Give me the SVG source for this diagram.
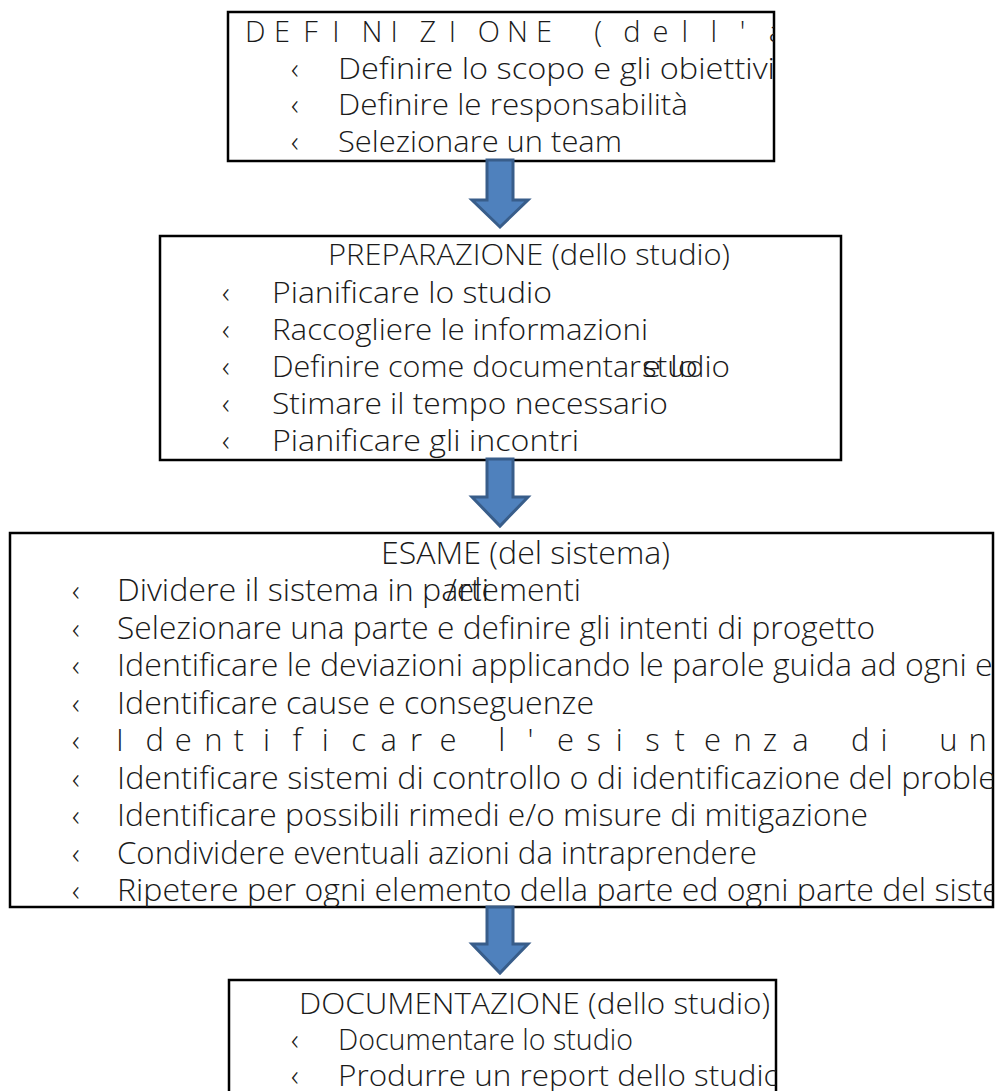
<svg xmlns="http://www.w3.org/2000/svg" width="995" height="1091" viewBox="0 0 995 1091">
<style>
.box{fill:#fff;stroke:#000;stroke-width:2.5}
.t{font-family:"Open Sans","Liberation Sans",sans-serif;font-size:29px;font-weight:300;fill:#1a1a1a}
.n{font-family:"Open Sans","Liberation Sans",sans-serif;font-size:31px;font-weight:300;fill:#1a1a1a}
.b{font-family:"Open Sans","Liberation Sans",sans-serif;font-size:30px;font-weight:300;fill:#1a1a1a}
.arrow{fill:#4f81bd;stroke:#385d8a;stroke-width:3;stroke-linejoin:miter}
</style>
<defs>
<clipPath id="c1"><rect x="228" y="12" width="546" height="149"/></clipPath>
<clipPath id="c2"><rect x="160" y="236" width="681" height="224"/></clipPath>
<clipPath id="c3"><rect x="10" y="533" width="983" height="374"/></clipPath>
<clipPath id="c4"><rect x="229" y="980" width="547" height="140"/></clipPath>
</defs>

<g id="definizione">
<rect class="box" x="228" y="12" width="546" height="149"/>
<g clip-path="url(#c1)">
<text class="t" x="245 274.1 303.2 332.3 361.4 390.5 419.6 448.7 477.8 506.9 536 565.1 594.2 623.3 652.4 681.5 710.6 739.7 768.8" y="42">DEFINIZIONE (dell'a</text>
<text class="b" x="291" y="79">‹</text>
<text class="t" x="338" y="79" textLength="437" lengthAdjust="spacingAndGlyphs">Definire lo scopo e gli obiettivi</text>
<text class="b" x="291" y="115">‹</text>
<text class="t" x="338" y="115" textLength="350" lengthAdjust="spacingAndGlyphs">Definire le responsabilità</text>
<text class="b" x="291" y="152">‹</text>
<text class="t" x="338" y="152" textLength="284" lengthAdjust="spacingAndGlyphs">Selezionare un team</text>
</g>
</g>

<g id="preparazione">
<rect class="box" x="160" y="236" width="681" height="224"/>
<g clip-path="url(#c2)">
<text class="t" x="328" y="265" textLength="402" lengthAdjust="spacingAndGlyphs">PREPARAZIONE (dello studio)</text>
<text class="b" x="222" y="303">‹</text>
<text class="t" x="272" y="303" textLength="280" lengthAdjust="spacingAndGlyphs">Pianificare lo studio</text>
<text class="b" x="222" y="340">‹</text>
<text class="t" x="272" y="340" textLength="376" lengthAdjust="spacingAndGlyphs">Raccogliere le informazioni</text>
<text class="b" x="222" y="377">‹</text>
<text class="t" x="272" y="377" textLength="369" lengthAdjust="spacingAndGlyphs">Definire come documentar</text>
<text class="t" x="642" y="377" textLength="88" lengthAdjust="spacingAndGlyphs">studio</text>
<text class="t" x="642" y="377" textLength="56" lengthAdjust="spacingAndGlyphs">e lo</text>
<text class="b" x="222" y="414">‹</text>
<text class="t" x="272" y="414" textLength="396" lengthAdjust="spacingAndGlyphs">Stimare il tempo necessario</text>
<text class="b" x="222" y="451">‹</text>
<text class="t" x="272" y="451" textLength="307" lengthAdjust="spacingAndGlyphs">Pianificare gli incontri</text>
</g>
</g>

<g id="esame">
<rect class="box" x="10" y="533" width="983" height="374"/>
<g clip-path="url(#c3)">
<text class="n" x="381" y="564" textLength="289" lengthAdjust="spacingAndGlyphs">ESAME (del sistema)</text>
<text class="b" x="72" y="601">‹</text>
<text class="n" x="117" y="601" textLength="372" lengthAdjust="spacingAndGlyphs">Dividere il sistema in parti</text>
<text class="n" x="446" y="601" textLength="135" lengthAdjust="spacingAndGlyphs">/elementi</text>
<text class="b" x="72" y="639">‹</text>
<text class="n" x="117" y="639" textLength="758" lengthAdjust="spacingAndGlyphs">Selezionare una parte e definire gli intenti di progetto</text>
<text class="b" x="72" y="676">‹</text>
<text class="n" x="117" y="676" textLength="883" lengthAdjust="spacingAndGlyphs">Identificare le deviazioni applicando le parole guida ad ogni el</text>
<text class="b" x="72" y="714">‹</text>
<text class="n" x="117" y="714" textLength="477" lengthAdjust="spacingAndGlyphs">Identificare cause e conseguenze</text>
<text class="b" x="72" y="751">‹</text>
<text class="n" x="116 145.4 174.8 204.2 233.6 263 292.4 321.8 351.2 380.6 410 439.4 468.8 498.2 527.6 557 586.4 615.8 645.2 674.6 704 733.4 762.8 792.2 821.6 851 880.4 909.8 939.2 968.6" y="751">Identificare l'esistenza di un</text>
<text class="b" x="72" y="789">‹</text>
<text class="n" x="117" y="789" textLength="879" lengthAdjust="spacingAndGlyphs">Identificare sistemi di controllo o di identificazione del proble</text>
<text class="b" x="72" y="826">‹</text>
<text class="n" x="117" y="826" textLength="751" lengthAdjust="spacingAndGlyphs">Identificare possibili rimedi e/o misure di mitigazione</text>
<text class="b" x="72" y="864">‹</text>
<text class="n" x="117" y="864" textLength="640" lengthAdjust="spacingAndGlyphs">Condividere eventuali azioni da intraprendere</text>
<text class="b" x="72" y="901">‹</text>
<text class="n" x="117" y="901" textLength="883" lengthAdjust="spacingAndGlyphs">Ripetere per ogni elemento della parte ed ogni parte del siste</text>
</g>
</g>

<g id="documentazione">
<rect class="box" x="229" y="980" width="547" height="140"/>
<g clip-path="url(#c4)">
<text class="t" x="299" y="1014" textLength="471" lengthAdjust="spacingAndGlyphs">DOCUMENTAZIONE (dello studio)</text>
<text class="b" x="291" y="1050">‹</text>
<text class="t" x="338" y="1050" textLength="295" lengthAdjust="spacingAndGlyphs">Documentare lo studio</text>
<text class="b" x="291" y="1086">‹</text>
<text class="t" x="338" y="1086" textLength="444" lengthAdjust="spacingAndGlyphs">Produrre un report dello studio</text>
</g>
</g>

<g id="connectors">
<path class="arrow" d="M487,160 H513 V200 H528 L500,227 L472,200 H487 Z"/>
<path class="arrow" d="M487,459 H513 V497 H528 L500,526 L472,497 H487 Z"/>
<path class="arrow" d="M487,907 H513 V944 H528 L500,973 L472,944 H487 Z"/>
</g>
</svg>
